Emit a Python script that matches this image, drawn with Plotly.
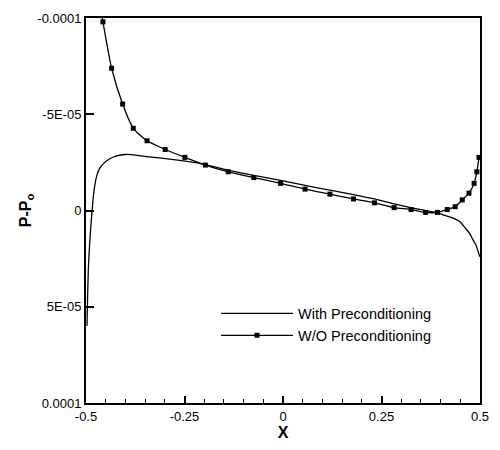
import plotly.graph_objects as go

# With Preconditioning (solid line), y in units of 1e-5
x_with = [-0.4975, -0.496, -0.494, -0.491, -0.488, -0.4845, -0.481, -0.477, -0.472, -0.465,
          -0.455, -0.443, -0.430, -0.415, -0.400, -0.385, -0.347, -0.282, -0.214, -0.197,
          -0.14, -0.074, -0.006, 0.056, 0.119, 0.179, 0.232, 0.282, 0.31, 0.35,
          0.387, 0.41, 0.432, 0.450, 0.462, 0.474, 0.482, 0.490, 0.495, 0.4995]
y_with = [6.0, 4.5, 3.0, 1.8, 0.9, 0.0, -0.8, -1.4, -1.85, -2.2,
          -2.45, -2.65, -2.78, -2.87, -2.91, -2.90, -2.80, -2.66, -2.46, -2.38,
          -2.10, -1.82, -1.56, -1.30, -1.06, -0.82, -0.60, -0.35, -0.22, -0.04,
          0.10, 0.25, 0.40, 0.60, 0.90, 1.20, 1.51, 1.80, 2.11, 2.40]

# W/O Preconditioning (line with markers), y in units of 1e-5
x_wo = [-0.461, -0.457, -0.435, -0.407, -0.380, -0.345, -0.299, -0.249, -0.197, -0.139,
        -0.074, -0.006, 0.056, 0.119, 0.179, 0.232, 0.282, 0.325, 0.362, 0.392,
        0.417, 0.437, 0.455, 0.472, 0.485, 0.492, 0.4975]
y_wo = [-10.3, -9.80, -7.39, -5.53, -4.27, -3.62, -3.17, -2.76, -2.36, -2.01,
        -1.71, -1.41, -1.11, -0.85, -0.60, -0.40, -0.15, -0.05, 0.10, 0.10,
        -0.05, -0.20, -0.55, -0.90, -1.41, -2.01, -2.76]

x_ticks = [-0.5, -0.25, 0, 0.25, 0.5]
x_ticktext = ["-0.5", "-0.25", "0", "0.25", "0.5"]
y_ticks = [-1e-4, -5e-5, 0, 5e-5, 1e-4]
y_ticktext = ["-0.0001", "-5E-05", "0", "5E-05", "0.0001"]

scale = 1e-5
fig = go.Figure()
fig.add_trace(go.Scatter(
    x=x_with, y=[v * scale for v in y_with], mode="lines",
    line=dict(color="black", width=1.3, shape="spline", smoothing=0.3),
    name="With Preconditioning"))
fig.add_trace(go.Scatter(
    x=x_wo, y=[v * scale for v in y_wo], mode="lines+markers",
    line=dict(color="black", width=1.3, shape="spline", smoothing=0.6),
    marker=dict(symbol="square", size=5, color="black"),
    name="W/O Preconditioning"))

axis_common = dict(
    showgrid=False, zeroline=False, showline=True, linecolor="black", linewidth=2,
    mirror=True, ticks="inside", tickcolor="black",
    tickfont=dict(family="Liberation Sans, Arial", size=13, color="black"),
)

fig.update_xaxes(
    range=[-0.5, 0.5], tickvals=x_ticks, ticktext=x_ticktext, ticklen=7, tickwidth=1.5,
    minor=dict(dtick=0.05, ticks="inside", ticklen=4, tickcolor="black", tickwidth=1),
    title=dict(text="<b>X</b>", font=dict(family="Liberation Sans, Arial", size=16, color="black"),
               standoff=4),
    **axis_common)
fig.update_yaxes(
    range=[1e-4, -1e-4], tickvals=y_ticks, ticktext=y_ticktext, ticklen=8, tickwidth=1.5,
    title=dict(text="<b>P-P<sub>o</sub></b>", font=dict(family="Liberation Sans, Arial", size=16, color="black"),
               standoff=2),
    **axis_common)

fig.update_layout(
    width=500, height=450,
    margin=dict(l=86, r=15, t=11, b=41),
    plot_bgcolor="white", paper_bgcolor="white",
    showlegend=True,
    legend=dict(x=0.33, y=0.274, xanchor="left", yanchor="top",
                bgcolor="rgba(0,0,0,0)", itemwidth=72, tracegroupgap=0,
                font=dict(family="Liberation Sans, Arial", size=14.5, color="black")),
)

fig.write_html("out.html")
